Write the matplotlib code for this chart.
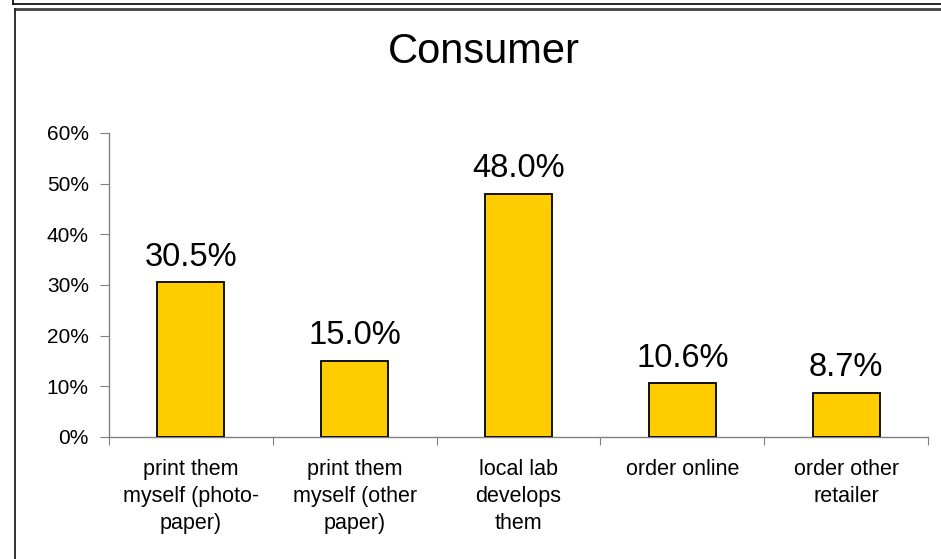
import matplotlib
matplotlib.use("Agg")
import matplotlib.pyplot as plt
from matplotlib.lines import Line2D

plt.rcParams['font.family'] = ['Liberation Sans', 'DejaVu Sans']

categories = [
    "print them\nmyself (photo-\npaper)",
    "print them\nmyself (other\npaper)",
    "local lab\ndevelops\nthem",
    "order online",
    "order other\nretailer",
]
shares = [30.5, 15.0, 48.0, 10.6, 8.7]
y_ticks = [0, 10, 20, 30, 40, 50, 60]
title = "Consumer"

W, H = 941, 559
fig = plt.figure(figsize=(W / 100, H / 100), dpi=100)
fig.patch.set_facecolor("white")

# frame lines around the chart area
fig.add_artist(Line2D([13 / W, 1], [1 - 4 / H, 1 - 4 / H], color="black", lw=1.2))
fig.add_artist(Line2D([13 / W, 13 / W], [1, 1 - 4 / H], color="black", lw=1.2))
fig.add_artist(Line2D([14.5 / W, 1], [1 - 9 / H, 1 - 9 / H], color="#404040", lw=2.0))
fig.add_artist(Line2D([14.5 / W, 14.5 / W], [0, 1 - 9 / H], color="#202020", lw=1.3))

ax = fig.add_axes([109 / W, 122 / H, (928 - 109) / W, (437 - 133) / H])
ax.set_facecolor("white")

xs = [i + 0.5 for i in range(len(categories))]
bars = ax.bar(xs, shares, width=0.41, color="#FFCC00", edgecolor="black", linewidth=1.3, zorder=3)

for x, v in zip(xs, shares):
    ax.annotate(f"{v:.1f}%", (x, v), xytext=(0, 12), textcoords="offset points",
                ha="center", va="baseline", fontsize=23.5, color="black")

ax.set_xlim(0, len(categories))
ax.set_ylim(0, 60)
ax.set_yticks(y_ticks)
ax.set_yticklabels([f"{t}%" for t in y_ticks], fontsize=15)

ax.set_xticks(range(len(categories) + 1))
ax.set_xticklabels([])
ax.set_xticks(xs, minor=True)
ax.set_xticklabels(categories, minor=True, fontsize=15.5, linespacing=1.38)
ax.tick_params(axis="x", which="minor", length=0, pad=16)
ax.tick_params(axis="x", which="major", direction="out", length=6, color="#808080")
ax.tick_params(axis="y", direction="out", length=6.5, pad=8, color="#808080")

for s in ("top", "right"):
    ax.spines[s].set_visible(False)
for s in ("left", "bottom"):
    ax.spines[s].set_color("#808080")
    ax.spines[s].set_linewidth(1.0)

fig.text(483.5 / W, 1 - 63 / H, title, ha="center", va="baseline", fontsize=30, color="black")

fig.savefig("out.png", dpi=100, facecolor="white")
